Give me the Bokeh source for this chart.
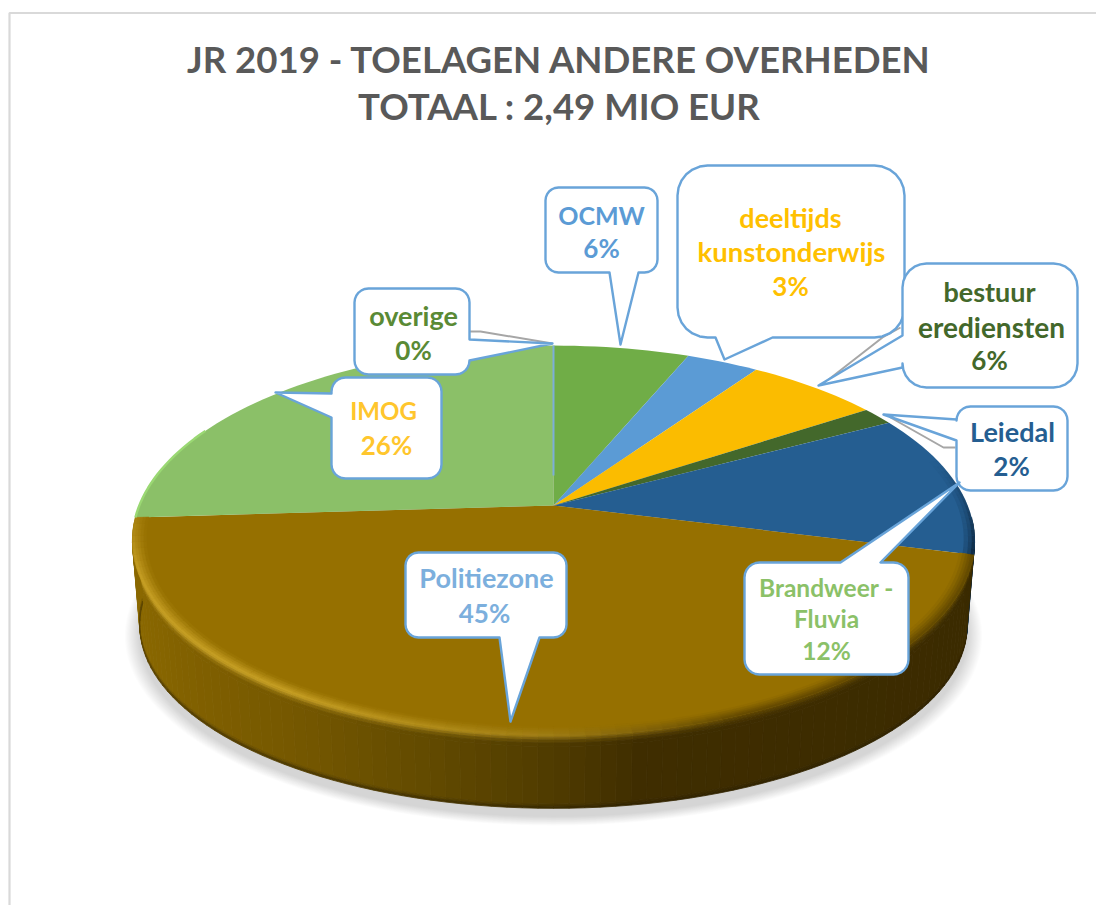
import numpy as np
from bokeh.plotting import figure
from bokeh.models import Range1d, ColumnDataSource
from bokeh.core.properties import value
from bokeh.embed import file_html
from bokeh.resources import INLINE

# ---- data ----
title_lines = ["JR 2019 - TOELAGEN ANDERE OVERHEDEN", "TOTAAL : 2,49 MIO EUR"]
slice_names = ["OCMW", "deeltijds kunstonderwijs", "bestuur erediensten", "Leiedal",
               "Brandweer - Fluvia", "Politiezone", "IMOG", "overige"]
slice_values = [6.2, 3.3, 6.1, 1.5, 11.9, 45.0, 26.0, 0.0]
slice_colors = ["#70ad47", "#5b9bd5", "#fbbc00", "#43682b", "#255e91", "#967000", "#8bc068", "#7caed9"]

# ---- layout: projection of the disc ----
CX, K = 553.0, 0.18
TOP = dict(apex=505.0, A=414.2, B=188.7)
BOT = dict(apex=592.0, A=407.0, B=177.0)


def project(p, r=1.0, g=TOP):
    t = 2 * np.pi * np.asarray(p, dtype=float) / 100.0
    x, y = r * np.sin(t), r * np.cos(t)
    w = 1 + K * y
    return CX + g["A"] * x / w, g["apex"] - g["B"] * y / w


def hex2rgb(h):
    return np.array([int(h[i:i + 2], 16) for i in (1, 3, 5)], dtype=float)


def mix(a, b, f):
    c = hex2rgb(a) * (1 - f) + hex2rgb(b) * f
    return "#%02x%02x%02x" % tuple(int(round(v)) for v in c)


def interp_col(x, xs, cols):
    rgb = np.array([hex2rgb(c) for c in cols])
    return "#%02x%02x%02x" % tuple(int(round(np.interp(x, xs, rgb[:, i]))) for i in range(3))


p = figure(width=1096, height=905, x_range=Range1d(0, 1096), y_range=Range1d(905, 0),
           output_backend="svg", toolbar_location=None, min_border=0)
p.axis.visible = False
p.grid.visible = False
p.outline_line_color = None
p.background_fill_color = "white"
p.border_fill_color = "white"

# chart frame
p.line([9, 9, 1096], [905, 12.5, 12.5], line_color="#d9d9d9", line_width=2.2)

# soft shadow under the disc
tt = np.linspace(0, 100, 181)
for i in range(14):
    e = 1 + (14 - i) * 0.0025
    sx, sy = project(tt, e, BOT)
    p.patch(sx, sy + 8, fill_color="#000000", fill_alpha=0.013, line_color=None)

cum = np.cumsum([0] + slice_values)
P_BLUE_END = cum[5]
P_BROWN_END = cum[6]
BROWN = slice_colors[5]

xs_col = [133, 200, 300, 400, 553, 640, 975]
wall_cols = ["#8a6800", "#7f5f00", "#745700", "#664d00", "#4f3b00", "#3f2d00", "#3b2b00"]
GOLD = "#c9a227"


def highlight(pc):
    return float(np.interp(pc, [P_BLUE_END, 44, 50, 63, 70, P_BROWN_END], [0, 0, .45, 1, .8, .35]))


# side wall (follows the slices)
q_x, q_y, q_c = [], [], []
v_edges = [0, .03, .06, .1, .15, .94, .97, 1]
cols = np.arange(26.0, P_BROWN_END + 1e-6, 0.5)
for a, b in zip(cols[:-1], cols[1:]):
    xa1, ya1 = project(a)
    xb1, yb1 = project(b)
    xa2, ya2 = project(a, 1, BOT)
    xb2, yb2 = project(b, 1, BOT)
    pm = (a + b) / 2
    xm = (xa1 + xb1) / 2
    is_brown = pm >= P_BLUE_END
    for v0, v1 in zip(v_edges[:-1], v_edges[1:]):
        vm = (v0 + v1) / 2
        if is_brown:
            wall = interp_col(xm, xs_col, wall_cols)
            rim = mix(mix(BROWN, wall, .6), GOLD, min(1.0, highlight(pm) * 1.2))
            if vm < .13:
                col = mix(rim, wall, min(1, vm / .1))
            elif vm > .94:
                col = mix(wall, "#241a00", (vm - .94) / .06 * .6)
            else:
                col = wall
        else:
            col = "#0e2a42"
        q_x.append([xa1 + (xa2 - xa1) * v0, xb1 + (xb2 - xb1) * v0, xb1 + (xb2 - xb1) * v1, xa1 + (xa2 - xa1) * v1])
        q_y.append([ya1 + (ya2 - ya1) * v0, yb1 + (yb2 - yb1) * v0, yb1 + (yb2 - yb1) * v1, ya1 + (ya2 - ya1) * v1])
        q_c.append(col)
p.patches(q_x, q_y, fill_color=q_c, line_color=q_c, line_width=0.8)

# top faces
fx, fy, fc = [], [], []
for i, c in enumerate(slice_colors[:7]):
    pp = np.linspace(cum[i], cum[i + 1], max(3, int(slice_values[i] * 2) + 2))
    rx, ry = project(pp)
    fx.append([CX] + list(rx))
    fy.append([TOP["apex"]] + list(ry))
    fc.append(c)
p.patches(fx, fy, fill_color=fc, line_color=None)

# bevel of the brown slice and dark edge of the navy slice
b_x, b_y, b_c = [], [], []
r_edges = [0.968, 0.975, 0.982, 0.988, 0.994, 1.0]
cols = np.arange(P_BLUE_END, P_BROWN_END + 1e-6, 0.5)
for a, b in zip(cols[:-1], cols[1:]):
    pm = (a + b) / 2
    xm = project(pm)[0]
    wall = interp_col(xm, xs_col, wall_cols)
    rim = mix(mix(BROWN, wall, .6), GOLD, min(1.0, highlight(pm) * 1.2))
    for j, (r0, r1) in enumerate(zip(r_edges[:-1], r_edges[1:])):
        f = (j + 0.5) / 5
        col = mix(BROWN, rim, f)
        xa0, ya0 = project(a, r0)
        xb0, yb0 = project(b, r0)
        xa1, ya1 = project(a, r1)
        xb1, yb1 = project(b, r1)
        b_x.append([xa0, xb0, xb1, xa1])
        b_y.append([ya0, yb0, yb1, ya1])
        b_c.append(col)
p.patches(b_x, b_y, fill_color=b_c, line_color=b_c, line_width=0.6)

d_x, d_y, d_c, d_a = [], [], [], []
cols = np.arange(21.0, P_BLUE_END + 1e-6, 0.5)
for a, b in zip(cols[:-1], cols[1:]):
    pm = (a + b) / 2
    s = (pm - 21.0) / (P_BLUE_END - 21.0)
    for r0, r1, al in [(0.975, 0.985, .25), (0.985, 0.993, .5), (0.993, 1.0, .85)]:
        xa0, ya0 = project(a, r0)
        xb0, yb0 = project(b, r0)
        xa1, ya1 = project(a, r1)
        xb1, yb1 = project(b, r1)
        d_x.append([xa0, xb0, xb1, xa1])
        d_y.append([ya0, yb0, yb1, ya1])
        d_c.append("#0b2238")
        d_a.append(al * s)
p.patches(d_x, d_y, fill_color=d_c, fill_alpha=d_a, line_color=None)

# lighter rim of IMOG, thin 0 % slice
rp = np.linspace(P_BROWN_END, P_BROWN_END + 8, 20)
rx, ry = project(rp)
p.line(rx, ry, line_color="#9ad873", line_width=2.4)
rx, ry = project(cum[-1])
p.line([CX, rx], [TOP["apex"] - 30, ry], line_color=slice_colors[7], line_width=2)

# grey leader lines
leaders = [([469, 480, 552], [331, 331, 343]),
           ([900, 882, 823], [327, 337, 383]),
           ([955, 943, 890], [447, 447, 417])]
for lx, ly in leaders:
    p.line(lx, ly, line_color="#a6a6a6", line_width=2)


def callout(x0, y0, x1, y1, r, side, a, b, tip):
    """outline of a rounded box with a tail on one side"""
    def arc(cx, cy, s, e):
        t = np.radians(np.linspace(s, e, 7))
        return list(cx + r * np.cos(t)), list(cy + r * np.sin(t))
    X, Y = [], []
    def add(pts):
        X.extend(pts[0])
        Y.extend(pts[1])
    add(arc(x0 + r, y0 + r, 180, 270))
    if side == "top":
        add(([a, tip[0], b], [y0, tip[1], y0]))
    add(arc(x1 - r, y0 + r, 270, 360))
    if side == "right":
        add(([x1, tip[0], x1], [a, tip[1], b]))
    add(arc(x1 - r, y1 - r, 0, 90))
    if side == "bottom":
        add(([b, tip[0], a], [y1, tip[1], y1]))
    add(arc(x0 + r, y1 - r, 90, 180))
    if side == "left":
        add(([x0, tip[0], x0], [b, tip[1], a]))
    return X, Y


boxes = [
    (1, 354, 288, 469, 374, 14, "right", 339, 360, (552, 343)),
    (1, 331, 377, 441, 478, 14, "left", 393, 417, (275, 392)),
    (1, 545, 187, 657, 272, 13, "bottom", 609, 638, (620, 344)),
    (1, 677, 165, 904, 337, 30, "bottom", 715, 772, (724, 359)),
    (1, 902, 263, 1077, 387, 24, "left", 335, 367, (818, 385)),
    (1, 956, 406, 1067, 490, 14, "left", 419, 440, (883, 414)),
    (1, 744, 562, 908, 674, 15, "top", 840, 880, (959, 482)),
    (1, 405, 552, 566, 637, 13, "bottom", 499, 539, (510, 721)),
]
for _, x0, y0, x1, y1, r, side, a, b, tip in boxes:
    X, Y = callout(x0, y0, x1, y1, r, side, a, b, tip)
    p.patch(X, Y, fill_color="white", line_color="#69a4d9", line_width=2.4, line_join="round")

# texts
FONT = value("Lato")
p.text([559, 559], [58, 105], text=title_lines, text_font=FONT, text_font_style="bold",
       text_font_size="36.6px", text_color="#595959", text_align="center", text_baseline="middle")

label_text = ["overige", "0%", "IMOG", "26%", "OCMW", "6%", "deeltijds", "kunstonderwijs", "3%",
              "bestuur", "erediensten", "6%", "Leiedal", "2%", "Politiezone", "45%"]
label_color = ["#5a8a35", "#5a8a35", "#ffc62d", "#ffc62d", "#5b9bd5", "#5b9bd5", "#ffc000", "#ffc000", "#ffc000",
               "#43682b", "#43682b", "#43682b", "#255e91", "#255e91", "#7cafdd", "#7cafdd"]
label_x = [413, 413, 383, 386, 601, 601, 790, 791, 790, 989, 991, 989, 1012, 1011, 486, 484]
label_y = [315, 349, 410, 444, 214, 247, 217, 251, 285, 291, 326, 359, 431, 465, 577, 612]
label_size = ["27px", "26px", "24px", "26px", "25px", "26px", "27px", "27.5px", "26px",
              "27px", "28px", "26px", "27px", "26px", "27px", "26px"]
src = ColumnDataSource(dict(x=label_x, y=label_y, t=label_text, c=label_color, s=label_size))
p.text("x", "y", text="t", text_color="c", text_font_size="s", source=src, text_font=FONT,
       text_font_style="bold", text_align="center", text_baseline="middle")
p.text([826, 826, 826], [587, 618, 650], text=["Brandweer -", "Fluvia", "12%"], text_color="#8bc168",
       text_font=FONT, text_font_style="bold", text_font_size="24.5px", text_align="center", text_baseline="middle")

open("out.html", "w").write(file_html(p, INLINE))
